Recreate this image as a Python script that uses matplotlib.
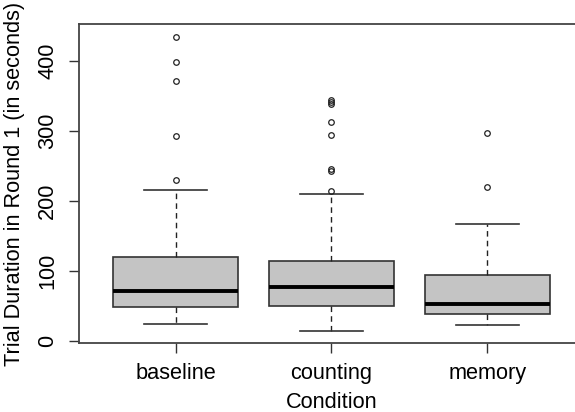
import numpy as np
from matplotlib import pyplot as plt

plt.rcParams['font.family'] = ['Liberation Sans', 'DejaVu Sans']

conditions = ['baseline', 'counting', 'memory']
whisker_low = [23.9, 13.9, 22.4]
q1 = [47.7, 49.1, 37.7]
medians = [71.4, 76.3, 52.9]
q3 = [119.6, 114.3, 93.9]
whisker_high = [215.3, 209.1, 166.7]
outliers = [
    [229.1, 292.9, 370.6, 397.7, 434.0],
    [213.9, 242.0, 245.0, 293.9, 312.9, 338.0, 341.0, 343.5],
    [220.0, 296.7],
]

stats = []
for i in range(len(conditions)):
    stats.append({'label': conditions[i], 'whislo': whisker_low[i], 'q1': q1[i],
                  'med': medians[i], 'q3': q3[i], 'whishi': whisker_high[i],
                  'fliers': outliers[i]})

fig = plt.figure(figsize=(5.75, 4.12), dpi=100)
# plot region runs past the right edge, as in the reference
ax = fig.add_axes([79 / 575, 1 - 343.3 / 412, 505 / 575, (343.3 - 24.5) / 412])

ax.bxp(stats, positions=[1, 2, 3], widths=0.8, patch_artist=True,
       boxprops=dict(facecolor='#c4c4c4', edgecolor='#333333', linewidth=1.2),
       medianprops=dict(color='black', linewidth=2.8),
       whiskerprops=dict(color='#222222', linewidth=1.0, linestyle=(0, (4, 3))),
       capprops=dict(color='#333333', linewidth=1.2),
       capwidths=0.4,
       flierprops=dict(marker='o', markerfacecolor='none', markeredgecolor='#222222',
                       markersize=4, markeredgewidth=0.9))

ax.set_xlim(0.38, 3.62)
ax.set_ylim(-3.7, 451.7)
ax.set_yticks([0, 100, 200, 300, 400])
ax.set_yticklabels(['0', '100', '200', '300', '400'], rotation=90, va='center')
ax.tick_params(axis='both', length=7, width=1, color='#333333', labelsize=15.7, pad=7)
ax.tick_params(axis='y', pad=8)
for s in ax.spines.values():
    s.set_color('#444444')
    s.set_linewidth(1.3)

ax.set_xlabel('Condition', fontsize=15.7, labelpad=6)
ax.set_ylabel('Trial Duration in Round 1 (in seconds)', fontsize=15.7, labelpad=9)

plt.savefig('out.png', dpi=100)
